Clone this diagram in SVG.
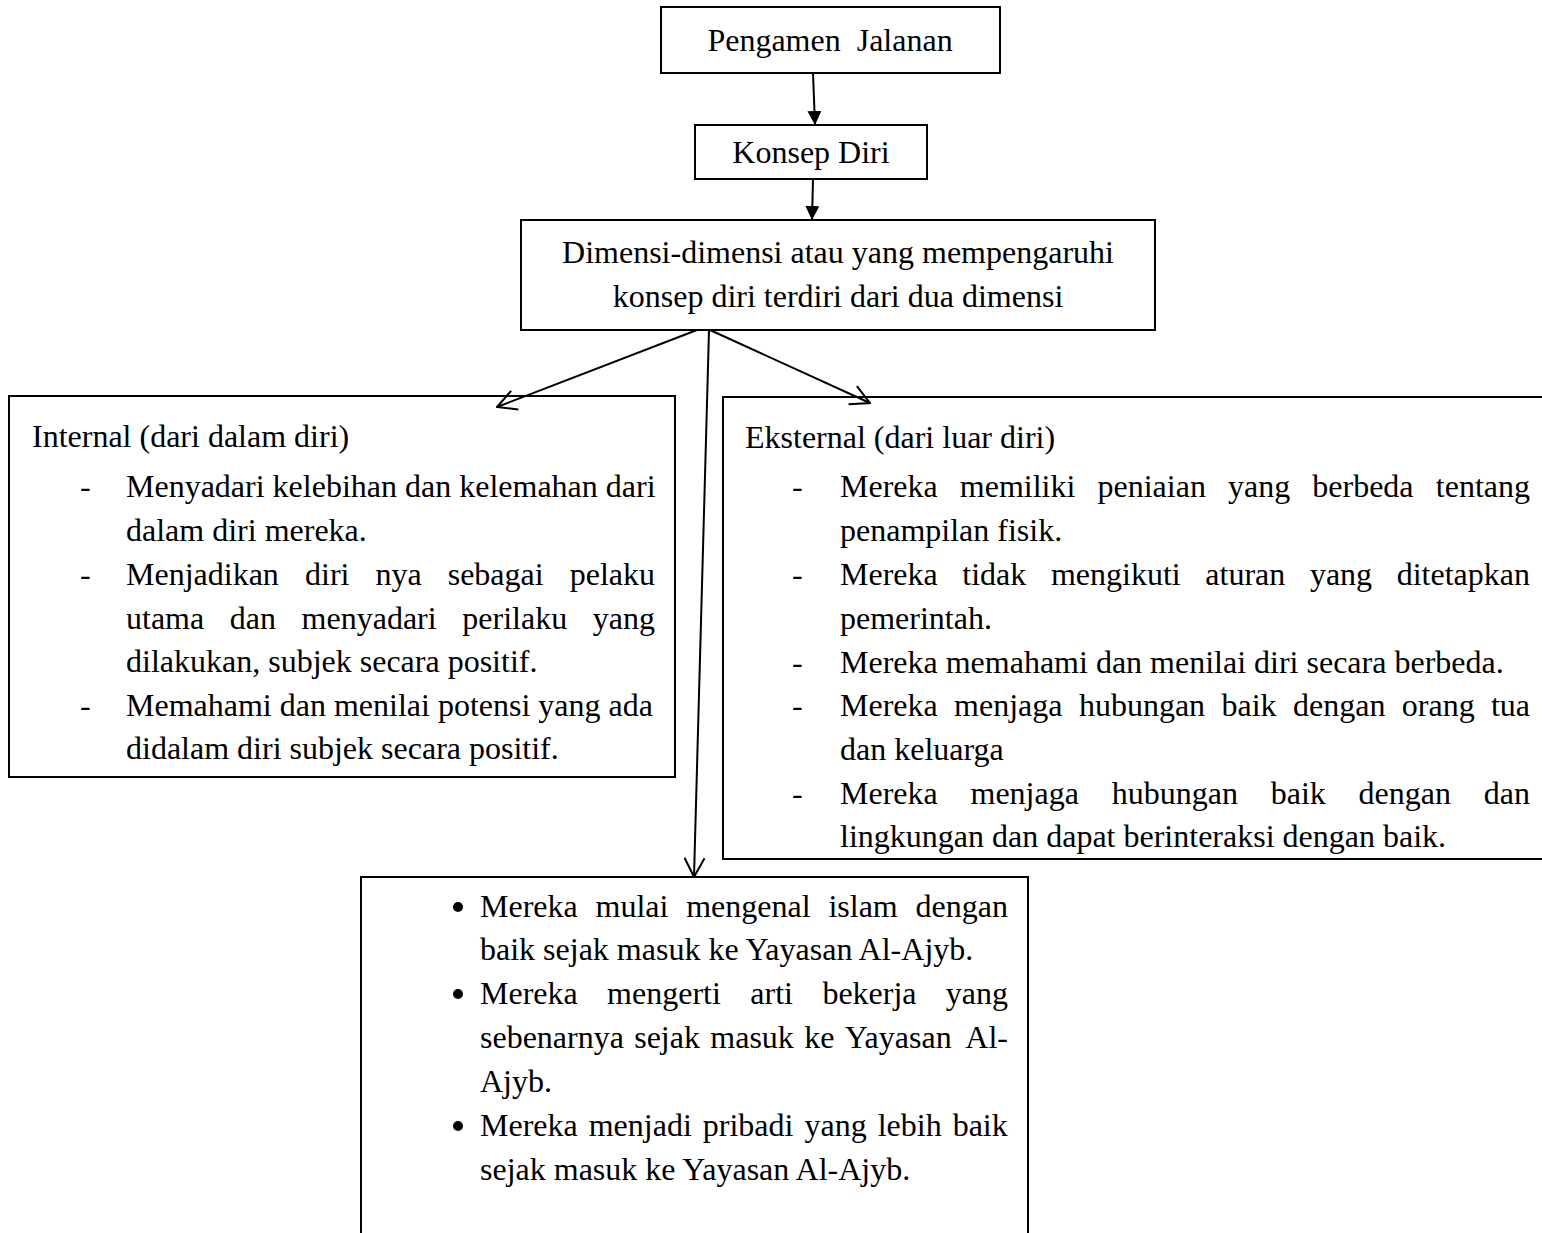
<svg xmlns="http://www.w3.org/2000/svg" width="1542" height="1233" viewBox="0 0 1542 1233">
<style>
.box{fill:#fff;stroke:#000;stroke-width:2}
.t{font-family:"Liberation Serif","Times New Roman",serif;font-size:32px;fill:#000}
.c{text-anchor:middle}
.e{text-anchor:end}
.ln{stroke:#000;stroke-width:2;fill:none}
</style>
<defs>
<marker id="fill" viewBox="0 0 14 14" refX="14" refY="7" markerWidth="14" markerHeight="14" markerUnits="userSpaceOnUse" orient="auto">
<path d="M0,0 L14,7 L0,14 Z" fill="#000"/>
</marker>
<marker id="open" viewBox="0 0 22 24" refX="21" refY="12" markerWidth="22" markerHeight="24" markerUnits="userSpaceOnUse" orient="auto">
<path d="M2,2 L21,12 L2,22" fill="none" stroke="#000" stroke-width="2"/>
</marker>
</defs>
<rect width="1542" height="1233" fill="#fff"/>

<g id="node-pengamen">
<rect class="box" x="661" y="7" width="339" height="66"/>
<text class="t c" x="830" y="51" xml:space="preserve">Pengamen  Jalanan</text>
</g>

<g id="node-konsep">
<rect class="box" x="695" y="125" width="232" height="54"/>
<text class="t c" x="811" y="163">Konsep Diri</text>
</g>

<g id="node-dimensi">
<rect class="box" x="521" y="220" width="634" height="110"/>
<text class="t c" x="838" y="263">Dimensi-dimensi atau yang mempengaruhi</text>
<text class="t c" x="838" y="307">konsep diri terdiri dari dua dimensi</text>
</g>

<g id="node-internal">
<rect class="box" x="9" y="396" width="666" height="381"/>
<text class="t" x="32" y="447">Internal (dari dalam diri)</text>
<text class="t" x="80" y="497">-</text>
<text class="t" x="80" y="585">-</text>
<text class="t" x="80" y="716">-</text>
<text class="t" x="126" y="497">Menyadari kelebihan dan kelemahan dari</text>
<text class="t" x="126" y="541">dalam diri mereka.</text>
<text class="t" y="585"><tspan x="126">Menjadikan</tspan><tspan x="305">diri</tspan><tspan x="375.4">nya</tspan><tspan x="447.7">sebagai</tspan></text>
<text class="t e" x="655" y="585">pelaku</text>
<text class="t" y="629"><tspan x="126">utama</tspan><tspan x="229.8">dan</tspan><tspan x="301.6">menyadari</tspan><tspan x="462.3">perilaku</tspan></text>
<text class="t e" x="655" y="629">yang</text>
<text class="t" x="126" y="672">dilakukan, subjek secara positif.</text>
<text class="t" x="126" y="716">Memahami dan menilai potensi yang ada</text>
<text class="t" x="126" y="759">didalam diri subjek secara positif.</text>
</g>

<g id="node-eksternal">
<rect class="box" x="723" y="397" width="830" height="462"/>
<text class="t" x="745" y="448">Eksternal (dari luar diri)</text>
<text class="t" x="792" y="497">-</text>
<text class="t" x="792" y="585">-</text>
<text class="t" x="792" y="673">-</text>
<text class="t" x="792" y="716">-</text>
<text class="t" x="792" y="804">-</text>
<text class="t" y="497"><tspan x="840">Mereka</tspan><tspan x="959.8">memiliki</tspan><tspan x="1097.5">peniaian</tspan><tspan x="1228">yang</tspan><tspan x="1312.3">berbeda</tspan></text>
<text class="t e" x="1530" y="497">tentang</text>
<text class="t" x="840" y="541">penampilan fisik.</text>
<text class="t" y="585"><tspan x="840">Mereka</tspan><tspan x="962.3">tidak</tspan><tspan x="1050.9">mengikuti</tspan><tspan x="1205.3">aturan</tspan><tspan x="1309.9">yang</tspan></text>
<text class="t e" x="1530" y="585">ditetapkan</text>
<text class="t" x="840" y="629">pemerintah.</text>
<text class="t" x="840" y="673">Mereka memahami dan menilai diri secara berbeda.</text>
<text class="t" y="716"><tspan x="840">Mereka</tspan><tspan x="954.1">menjaga</tspan><tspan x="1078.9">hubungan</tspan><tspan x="1221.5">baik</tspan><tspan x="1293">dengan</tspan><tspan x="1401.8">orang</tspan></text>
<text class="t e" x="1530" y="716">tua</text>
<text class="t" x="840" y="760">dan keluarga</text>
<text class="t" y="804"><tspan x="840">Mereka</tspan><tspan x="970.5">menjaga</tspan><tspan x="1111.7">hubungan</tspan><tspan x="1270.7">baik</tspan><tspan x="1358.6">dengan</tspan></text>
<text class="t e" x="1530" y="804">dan</text>
<text class="t" x="840" y="847">lingkungan dan dapat berinteraksi dengan baik.</text>
</g>

<g id="node-hasil">
<rect class="box" x="361" y="877" width="667" height="380"/>
<circle cx="458" cy="907" r="5"/>
<circle cx="458" cy="994" r="5"/>
<circle cx="458" cy="1126" r="5"/>
<text class="t" y="917"><tspan x="480">Mereka</tspan><tspan x="595.5">mulai</tspan><tspan x="686.2">mengenal</tspan><tspan x="828.4">islam</tspan></text>
<text class="t e" x="1008" y="917">dengan</text>
<text class="t" x="480" y="960">baik sejak masuk ke Yayasan Al-Ajyb.</text>
<text class="t" y="1004"><tspan x="480">Mereka</tspan><tspan x="607.1">mengerti</tspan><tspan x="750.3">arti</tspan><tspan x="822.4">bekerja</tspan></text>
<text class="t e" x="1008" y="1004">yang</text>
<text class="t" y="1048"><tspan x="480">sebenarnya</tspan><tspan x="634.2">sejak</tspan><tspan x="710.3">masuk</tspan><tspan x="804.2">ke</tspan><tspan x="844.7">Yayasan</tspan></text>
<text class="t e" x="1008" y="1048">Al-</text>
<text class="t" x="480" y="1092">Ajyb.</text>
<text class="t" x="480" y="1136" word-spacing="3">Mereka menjadi pribadi yang lebih baik</text>
<text class="t" x="480" y="1180">sejak masuk ke Yayasan Al-Ajyb.</text>
</g>

<g id="connectors">
<line class="ln" x1="813" y1="73" x2="815" y2="125" marker-end="url(#fill)"/>
<line class="ln" x1="813" y1="179" x2="812" y2="220" marker-end="url(#fill)"/>
<line class="ln" x1="697" y1="330" x2="497" y2="407" marker-end="url(#open)"/>
<line class="ln" x1="710" y1="330" x2="870" y2="403" marker-end="url(#open)"/>
<line class="ln" x1="709" y1="330" x2="694" y2="877" marker-end="url(#open)"/>
</g>
</svg>
